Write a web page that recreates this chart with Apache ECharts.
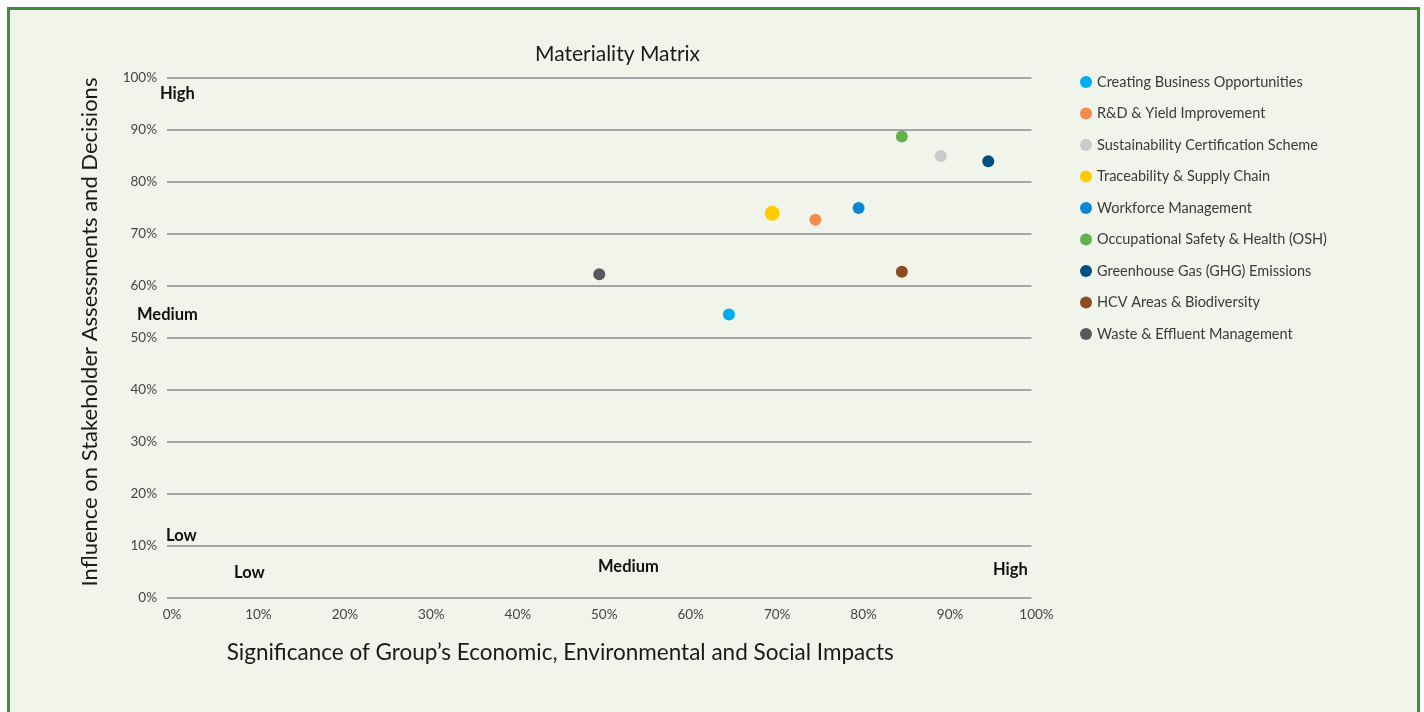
<!DOCTYPE html>
<html>
<head>
<meta charset="utf-8">
<script src="https://cdn.jsdelivr.net/npm/echarts@6/dist/echarts.min.js"></script>
<style>
html,body{margin:0;padding:0;background:#ffffff;width:1424px;height:712px;overflow:hidden;}
#frame{position:absolute;left:7px;top:7px;width:1407px;height:720px;border:3px solid #3f8f3a;background:#f1f4eb;}
#chart{position:absolute;left:0;top:0;width:1424px;height:712px;}
</style>
</head>
<body>
<div id="frame"></div>
<div id="chart"></div>
<script>
const topics = [
  "Creating Business Opportunities",
  "R&D & Yield Improvement",
  "Sustainability Certification Scheme",
  "Traceability & Supply Chain",
  "Workforce Management",
  "Occupational Safety & Health (OSH)",
  "Greenhouse Gas (GHG) Emissions",
  "HCV Areas & Biodiversity",
  "Waste & Effluent Management"
];
const significance = [65, 75, 89.5, 70, 80, 85, 95, 85, 50];
const influence = [54.5, 72.75, 85, 74, 75, 88.75, 84, 62.75, 62.25];
const colors = ["#00aeef", "#f68b4f", "#c9caca", "#ffcc00", "#0a88d4", "#63b14b", "#00507f", "#8b4c1f", "#58595b"];
const sizes = [12, 12, 12, 15, 12, 12, 12, 12, 12];
const xTicks = [0, 10, 20, 30, 40, 50, 60, 70, 80, 90, 100];
const yTicks = [0, 10, 20, 30, 40, 50, 60, 70, 80, 90, 100];

const FONT = "Lato";
const chart = echarts.init(document.getElementById('chart'), null, {renderer: 'canvas'});

const series = topics.map((name, i) => ({
  name: name,
  type: 'scatter',
  data: [[significance[i], influence[i]]],
  symbolSize: sizes[i],
  itemStyle: {color: colors[i], opacity: 1},
  z: 5
}));

const boldText = (txt, x, y) => ({
  type: 'text', x: x, y: y, z: 10,
  style: {text: txt, font: 'bold 16.5px ' + FONT, fill: '#111', textAlign: 'left', textVerticalAlign: 'middle', verticalAlign: 'middle'}
});

chart.setOption({
  backgroundColor: 'transparent',
  animation: false,
  textStyle: {fontFamily: FONT},
  title: {
    text: 'Materiality Matrix',
    left: 530, top: 39,
    textStyle: {fontFamily: FONT, fontSize: 21, fontWeight: 'normal', color: '#1a1a1a'}
  },
  legend: {
    orient: 'vertical',
    left: 1075, top: 69.5,
    itemWidth: 12, itemHeight: 12, itemGap: 16.5,
    icon: 'circle',
    textStyle: {fontFamily: FONT, fontSize: 14.5, color: '#3a3a3a'},
    data: topics
  },
  grid: {left: 167, right: 392.5, top: 78, bottom: 114, containLabel: false},
  xAxis: {
    type: 'value', min: 0, max: 100, interval: 10,
    name: 'Significance of Group\u2019s Economic, Environmental and Social Impacts',
    nameLocation: 'middle', nameGap: 43,
    nameTextStyle: {fontFamily: FONT, fontSize: 22.5, color: '#1a1a1a', padding: [0, 78, 0, 0]},
    axisLine: {show: false}, axisTick: {show: false}, splitLine: {show: false},
    axisLabel: {formatter: v => xTicks.includes(v) ? v + '%' : '', fontFamily: FONT, fontSize: 13.5, color: '#444', margin: 10, padding: [0, 0, 0, 10]}
  },
  yAxis: {
    type: 'value', min: 0, max: 100, interval: 10,
    name: 'Influence on Stakeholder Assessments and Decisions',
    nameLocation: 'middle', nameGap: 66,
    nameTextStyle: {fontFamily: FONT, fontSize: 22, color: '#1a1a1a', padding: [0, 0, 0, 12]},
    axisLine: {show: false}, axisTick: {show: false},
    splitLine: {show: true, lineStyle: {color: '#a5a5a5', width: 2}},
    axisLabel: {formatter: v => yTicks.includes(v) ? v + '%' : '', fontFamily: FONT, fontSize: 13.5, color: '#444', margin: 10}
  },
  graphic: [
    boldText('High', 160, 94),
    boldText('Medium', 137, 315),
    boldText('Low', 166, 536),
    boldText('Low', 234, 573),
    boldText('Medium', 598, 567),
    boldText('High', 993, 570)
  ],
  series: series
});
</script>
</body>
</html>
